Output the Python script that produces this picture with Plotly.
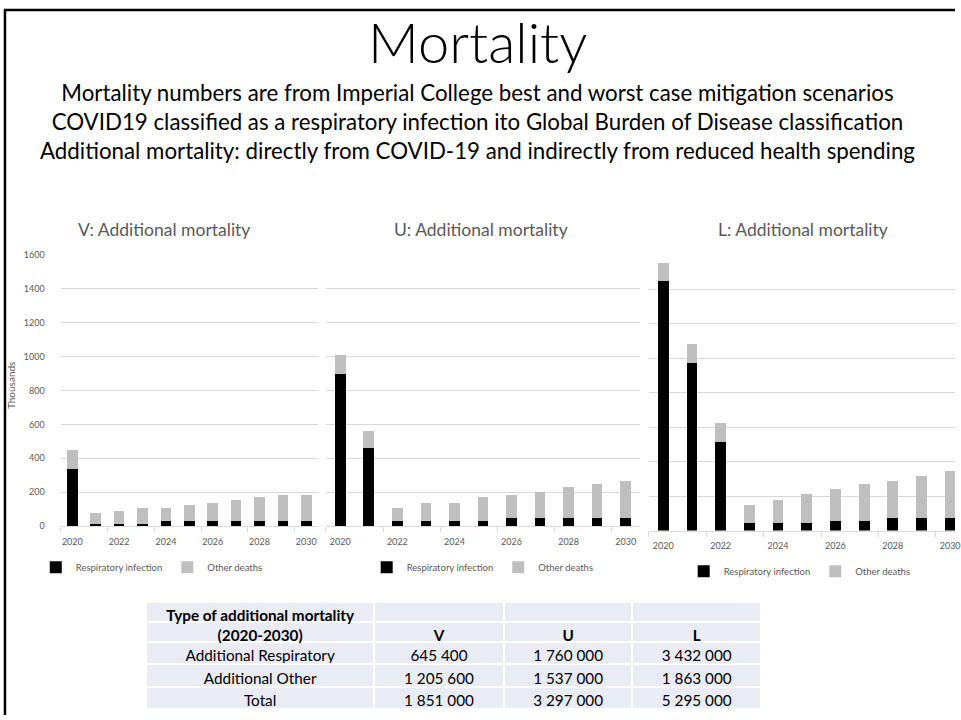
import plotly.graph_objects as go

W, H = 961, 720


def px(x):
    return x / W


def py(y):
    return 1 - y / H


# ---------------- data (thousands) ----------------
years = list(range(2020, 2031))
year_ticks = [2020, 2022, 2024, 2026, 2028, 2030]

v_resp = [337, 12, 12, 12, 29, 29, 29, 29, 29, 29, 29]
v_other = [113, 62, 78, 95, 78, 94, 109, 123, 140, 156, 156]

u_resp = [898, 463, 29, 29, 29, 29, 45, 45, 45, 45, 45]
u_other = [111, 96, 78, 109, 109, 140, 140, 156, 187, 202, 218]

l_resp = [1447, 976, 517, 42, 42, 42, 57, 57, 73, 73, 73]
l_other = [109, 107, 107, 107, 138, 169, 184, 215, 214, 245, 275]

y_ticks = [0, 200, 400, 600, 800, 1000, 1200, 1400, 1600]

series_names = ["Respiratory infection", "Other deaths"]
panel_titles = ["V: Additional mortality", "U: Additional mortality", "L: Additional mortality"]

header_col0 = ["Type of additional mortality", "(2020-2030)"]
header_v = ["", "V"]
header_u = ["", "U"]
header_l = ["", "L"]
row_labels = ["Additional Respiratory", "Additional Other", "Total"]
col_v = ["645 400", "1 205 600", "1 851 000"]
col_u = ["1 760 000", "1 537 000", "3 297 000"]
col_l = ["3 432 000", "1 863 000", "5 295 000"]

title_text = "Mortality"
subtitle_lines = [
    "Mortality numbers are from Imperial College best and worst case mitigation scenarios",
    "COVID19 classified as a respiratory infection ito Global Burden of Disease classification",
    "Additional mortality: directly from COVID-19 and indirectly from reduced health spending",
]

# ---------------- styling ----------------
FONT = "Lato"
BLACK = "#000000"
GREY_BAR = "#bfbfbf"
GRID = "#d9d9d9"
TXT = "#595959"
TABLE_FILL = "#e9ebf5"

fig = go.Figure()

panels = [
    dict(resp=v_resp, other=v_other, xa="x", ya="y", leg="legend",
         xdom=(61, 320), ydom=(253, 528), xr=[2019.5, 2030.5], bw=0.45,
         title_x=165, leg_x=36, leg_y=570, showy=True),
    dict(resp=u_resp, other=u_other, xa="x2", ya="y2", leg="legend2",
         xdom=(328, 644), ydom=(253, 528), xr=[2019.5, 2030.5], bw=0.37,
         title_x=484, leg_x=369, leg_y=570, showy=False),
    dict(resp=l_resp, other=l_other, xa="x3", ya="y3", leg="legend3",
         xdom=(653, 961), ydom=(253, 532.7), xr=[2019.5, 2030.17], bw=0.38,
         title_x=808, leg_x=688, leg_y=574, showy=False),
]

for i, p in enumerate(panels):
    fig.add_trace(go.Bar(x=years, y=p["resp"], name=series_names[0],
                         marker=dict(color=BLACK, line=dict(width=0)),
                         width=[p["bw"]] * len(years),
                         xaxis=p["xa"], yaxis=p["ya"], legend=p["leg"],
                         hoverinfo="x+y"))
    fig.add_trace(go.Bar(x=years, y=p["other"], name=series_names[1],
                         marker=dict(color=GREY_BAR, line=dict(width=0)),
                         width=[p["bw"]] * len(years),
                         xaxis=p["xa"], yaxis=p["ya"], legend=p["leg"],
                         hoverinfo="x+y"))

layout = dict(
    width=W, height=H,
    margin=dict(l=0, r=0, t=0, b=0),
    paper_bgcolor="white", plot_bgcolor="white",
    barmode="stack",
    showlegend=True,
    font=dict(family=FONT, color=TXT),
)

for i, p in enumerate(panels):
    sfx = "" if i == 0 else str(i + 1)
    layout["xaxis" + sfx] = dict(
        domain=[px(p["xdom"][0]), px(p["xdom"][1])],
        anchor="y" + sfx,
        range=p["xr"],
        tickmode="array", tickvals=year_ticks,
        ticktext=[str(t) for t in year_ticks],
        ticks="", showgrid=False, zeroline=False,
        showline=True, linecolor=GRID, linewidth=1,
        tickfont=dict(family=FONT, size=9, color=TXT),
        ticklabelstandoff=7,
        ticklabeloverflow="allow",
        minor=dict(tickmode="array",
                   tickvals=[2019.5, 2021.5, 2023.5, 2025.5, 2027.5, 2029.5],
                   ticks="outside", ticklen=5, tickcolor=GRID, tickwidth=1,
                   showgrid=False),
        fixedrange=True,
    )
    layout["yaxis" + sfx] = dict(
        domain=[py(p["ydom"][1]), py(p["ydom"][0])],
        anchor="x" + sfx,
        range=[0, 1600],
        tickmode="array", tickvals=y_ticks,
        ticktext=[str(t) for t in y_ticks],
        showticklabels=p["showy"],
        showgrid=True, gridcolor=GRID, gridwidth=1,
        zeroline=False, showline=False, ticks="",
        tickfont=dict(family=FONT, size=9, color=TXT),
        ticklabelstandoff=15,
        fixedrange=True,
    )
    layout[p["leg"]] = dict(
        orientation="h", x=px(p["leg_x"]), y=py(p["leg_y"]),
        xanchor="left", yanchor="middle",
        font=dict(family=FONT, size=9.5, color=TXT),
        itemwidth=30, bgcolor="rgba(0,0,0,0)",
        traceorder="normal",
    )

fig.update_layout(**layout)

# titles / texts
annotations = [
    dict(text=title_text, x=px(481), y=py(36), xref="paper", yref="paper",
         showarrow=False, font=dict(family=FONT, size=56, color="#000000", weight=300),
         xanchor="center", yanchor="middle"),
    dict(text="<br>".join(subtitle_lines), x=px(481), y=py(117), xref="paper", yref="paper",
         showarrow=False, font=dict(family=FONT, size=22.3, color="#000000"),
         xanchor="center", yanchor="middle", align="center"),
    dict(text="Thousands", x=px(11), y=py(385), xref="paper", yref="paper",
         showarrow=False, textangle=-90, font=dict(family=FONT, size=10, color=TXT),
         xanchor="center", yanchor="middle"),
]
for i, p in enumerate(panels):
    annotations.append(dict(text=panel_titles[i], x=px(p["title_x"]), y=py(227),
                            xref="paper", yref="paper", showarrow=False,
                            font=dict(family=FONT, size=17.5, color=TXT),
                            xanchor="center", yanchor="middle"))
fig.update_layout(annotations=annotations)

# table
fig.add_trace(go.Table(
    domain=dict(x=[px(147), px(766)], y=[py(716), py(605)]),
    columnwidth=[227, 129, 128, 128],
    header=dict(values=[header_col0, header_v, header_u, header_l],
                fill_color=TABLE_FILL, line=dict(color="white", width=2),
                align="center", height=20,
                font=dict(family=FONT, size=15.3, color="black", weight="bold")),
    cells=dict(values=[row_labels, col_v, col_u, col_l],
               fill_color=TABLE_FILL, line=dict(color="white", width=2),
               align="center", height=22.5,
               font=dict(family=FONT, size=15.3, color="black")),
))

# slide border (left and top)
fig.add_shape(type="line", xref="paper", yref="paper", x0=px(5), x1=px(5), y0=0, y1=py(4),
              line=dict(color="black", width=2.5))
fig.add_shape(type="line", xref="paper", yref="paper", x0=px(4), x1=1, y0=py(4), y1=py(4),
              line=dict(color="black", width=2.5))

fig.write_html(
    "out.html",
    config={"displayModeBar": False},
    post_script="document.body.style.margin='0';document.body.style.overflow='hidden';",
)
